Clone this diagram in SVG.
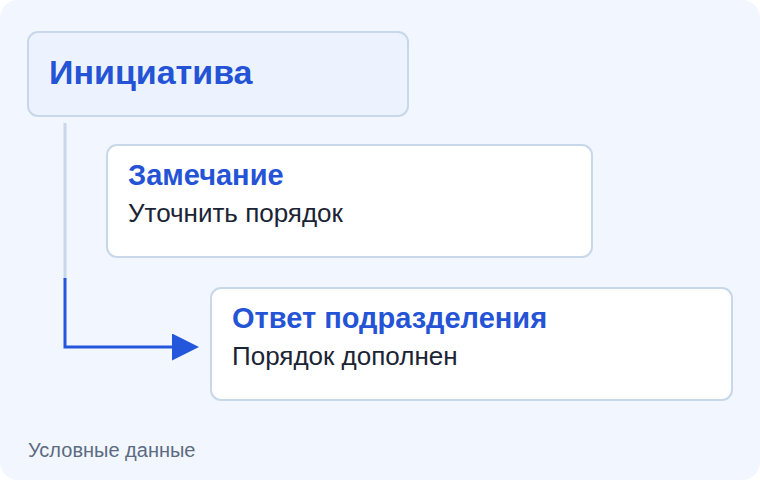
<svg xmlns="http://www.w3.org/2000/svg" width="760" height="480" viewBox="0 0 760 480">
  <defs>
    <style>
      .bg { fill: #f2f6fe; }
      .card { fill: #ffffff; stroke: #c9d7ea; stroke-width: 2; }
      .card-root { fill: #edf3fe; stroke: #c9d7ea; stroke-width: 2; }
      .title { font-family: "Liberation Sans", Arial, sans-serif; font-weight: bold; fill: #2453d6; font-size: 29px; }
      .body { font-family: "Liberation Sans", Arial, sans-serif; fill: #1b2435; font-size: 26px; }
      .note { font-family: "Liberation Sans", Arial, sans-serif; fill: #5b6b80; font-size: 20px; }
      .trunk { stroke: #c9d7ea; stroke-width: 3; fill: none; }
      .edge { stroke: #2456dc; stroke-width: 3; fill: none; }
    </style>
    <marker id="arrow" markerWidth="9" markerHeight="9" refX="0" refY="4.5" orient="auto" markerUnits="strokeWidth">
      <path d="M0,0 L9,4.5 L0,9 Z" fill="#2456dc"/>
    </marker>
  </defs>
  <rect class="bg" x="0" y="0" width="760" height="480" rx="18"/>
  <g id="connectors">
    <line class="trunk" x1="65" y1="123" x2="65" y2="280"/>
    <path class="edge" d="M65,278 L65,347 L172,347" marker-end="url(#arrow)"/>
  </g>
  <g id="node-initiative">
    <rect class="card-root" x="28" y="32" width="380" height="84" rx="10"/>
    <text class="title" x="49" y="84" style="font-size:34px">Инициатива</text>
  </g>
  <g id="node-remark">
    <rect class="card" x="107" y="145" width="485" height="112" rx="10"/>
    <text class="title" x="128" y="185">Замечание</text>
    <text class="body" x="128" y="222">Уточнить порядок</text>
  </g>
  <g id="node-answer">
    <rect class="card" x="211" y="288" width="521" height="112" rx="10"/>
    <text class="title" x="232" y="328">Ответ подразделения</text>
    <text class="body" x="232" y="365">Порядок дополнен</text>
  </g>
  <text class="note" x="28" y="457">Условные данные</text>
</svg>
